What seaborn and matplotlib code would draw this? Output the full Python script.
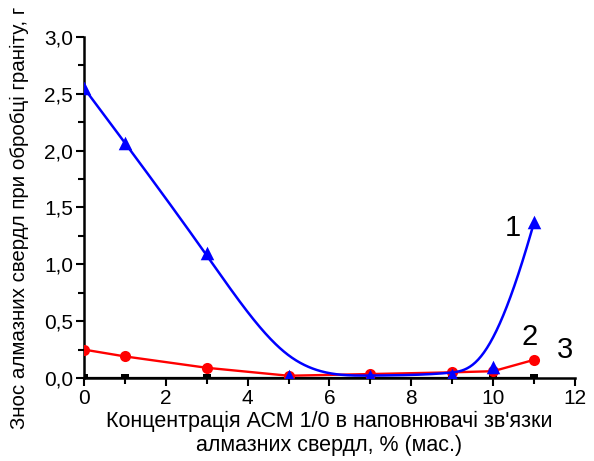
import numpy as np
import pandas as pd
import matplotlib
matplotlib.use("Agg")
import matplotlib.pyplot as plt
import seaborn as sns
from matplotlib.ticker import MultipleLocator, FuncFormatter

sns.set_theme(style="ticks")
plt.rcParams['font.family'] = ['Liberation Sans', 'DejaVu Sans']

x = [0, 1, 3, 5, 7, 9, 10, 11]
s1 = [2.55, 2.07, 1.10, 0.02, 0.02, 0.03, 0.10, 1.37]
s2 = [0.25, 0.19, 0.09, 0.02, 0.035, 0.05, 0.06, 0.16]
s3 = [0.0, 0.0, 0.0, 0.0, 0.0, 0.0, 0.0, 0.0]
labels = ["1", "2", "3"]


def bspline(px, py, n=400, k=3):
    P = np.column_stack([px, py]).astype(float)
    m = len(P)
    knots = np.concatenate([np.zeros(k), np.linspace(0, 1, m - k + 1), np.ones(k)])
    t = np.linspace(0, 1, n)
    t[-1] = 1 - 1e-12

    def N(i, kk, tt):
        if kk == 0:
            return np.where((knots[i] <= tt) & (tt < knots[i + 1]), 1.0, 0.0)
        a = 0.0
        d1 = knots[i + kk] - knots[i]
        if d1 > 0:
            a = (tt - knots[i]) / d1 * N(i, kk - 1, tt)
        b = 0.0
        d2 = knots[i + kk + 1] - knots[i + 1]
        if d2 > 0:
            b = (knots[i + kk + 1] - tt) / d2 * N(i + 1, kk - 1, tt)
        return a + b

    B = np.array([N(i, k, t) for i in range(m)])
    C = B.T @ P
    return C[:, 0], C[:, 1]


df = pd.DataFrame({"x": x, "s1": s1, "s2": s2, "s3": s3})
cx, cy = bspline(x, s1)
curve = pd.DataFrame({"x": cx, "y": cy})

fig = plt.figure(figsize=(5.94, 4.61), dpi=100)
ax = fig.add_axes([0.1414, 0.18, 0.8266, 0.74])

sns.lineplot(data=df, x="x", y="s3", ax=ax, color="black", lw=1.6,
             marker="s", markersize=6, markeredgewidth=0, zorder=2)
sns.lineplot(data=df, x="x", y="s2", ax=ax, color="#ff0000", lw=1.7,
             marker="o", markersize=8, markeredgewidth=0, zorder=3)
sns.lineplot(data=curve, x="x", y="y", ax=ax, color="#0000ff", lw=1.8,
             sort=False, estimator=None, zorder=4)
sns.scatterplot(data=df, x="x", y="s1", ax=ax, color="#0000ff", marker="^",
                s=95, linewidth=0, zorder=5)

ax.set_xlim(0, 12)
ax.set_ylim(0, 3.0)
ax.xaxis.set_major_locator(MultipleLocator(2))
ax.xaxis.set_minor_locator(MultipleLocator(1))
ax.yaxis.set_major_locator(MultipleLocator(0.5))
ax.yaxis.set_minor_locator(MultipleLocator(0.25))
ax.yaxis.set_major_formatter(FuncFormatter(lambda v, p: f"{v:.1f}".replace(".", ",")))
ax.tick_params(which="major", length=6, width=1.5, labelsize=15, color="black",
               labelcolor="black", direction="out", pad=2)
ax.tick_params(which="minor", length=4, width=1.5, direction="out", color="black")
for sp in ["top", "right"]:
    ax.spines[sp].set_visible(False)
for sp in ["left", "bottom"]:
    ax.spines[sp].set_linewidth(1.8)
    ax.spines[sp].set_color("black")

ax.set_xlabel("Концентрація АСМ 1/0 в наповнювачі зв'язки\nалмазних свердл, % (мас.)",
              fontsize=15.5, color="black", linespacing=1.15)
ax.xaxis.set_label_coords(0.5, -0.097)
ax.set_ylabel("Знос алмазних свердл при обробці граніту, г", fontsize=14.8,
              color="black")
ax.yaxis.set_label_coords(-0.112, 0.47)

ax.text(10.49, 1.32, labels[0], fontsize=21, ha="center", va="center", color="black")
ax.text(10.9, 0.36, labels[1], fontsize=21, ha="center", va="center", color="black")
ax.text(11.76, 0.25, labels[2], fontsize=21, ha="center", va="center", color="black",
        clip_on=False)

fig.savefig("out.png", dpi=100)
